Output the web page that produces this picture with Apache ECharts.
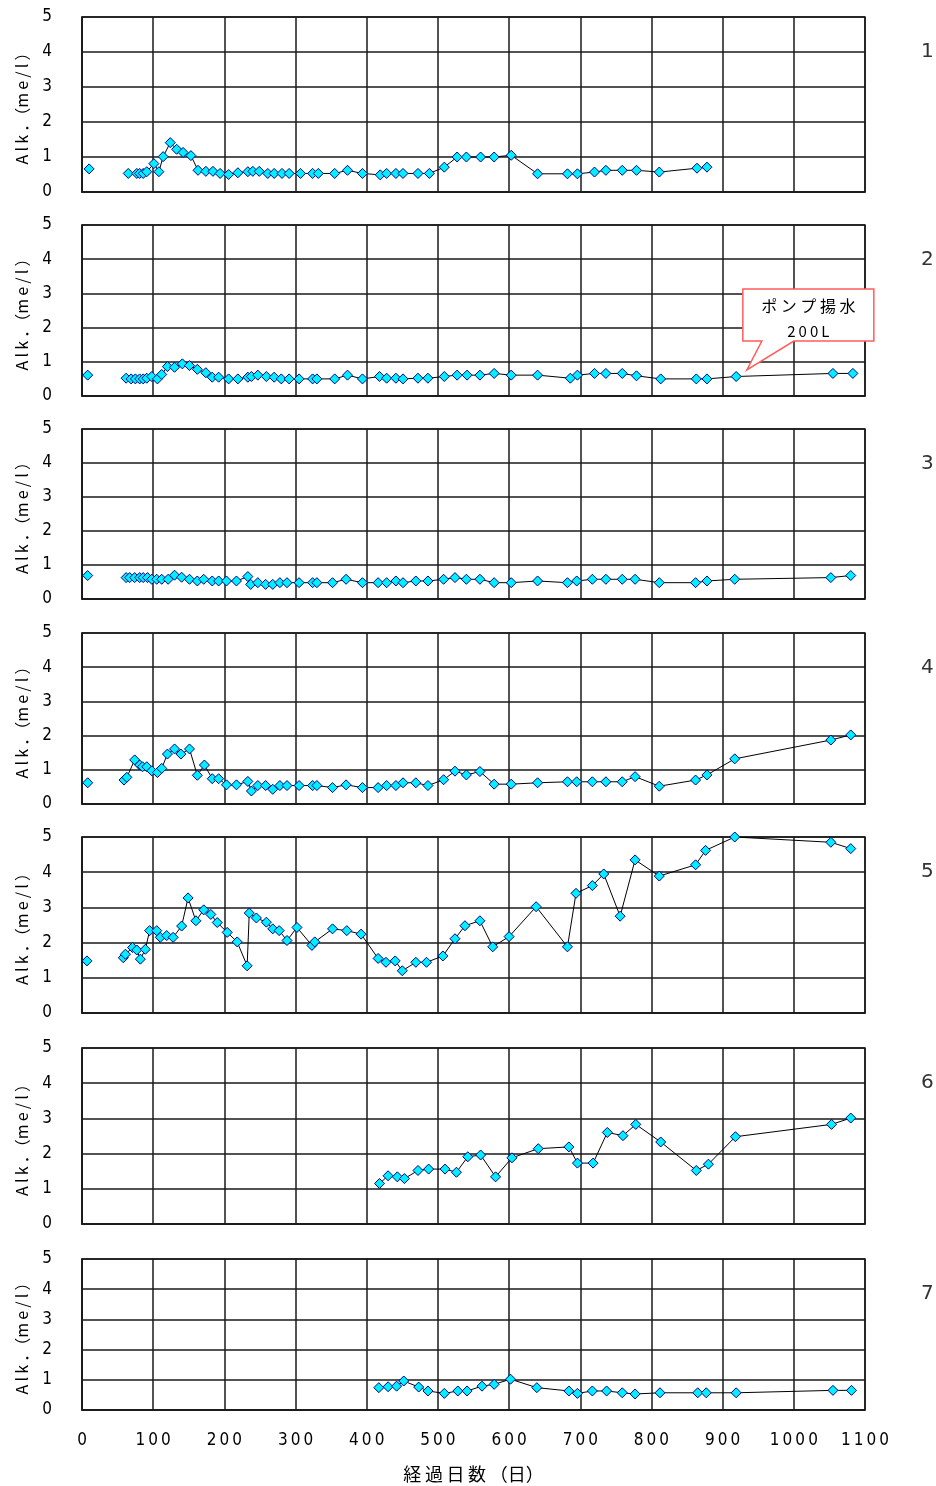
<!DOCTYPE html>
<html>
<head>
<meta charset="utf-8">
<title>Alk. time series</title>
<script src="https://cdn.jsdelivr.net/npm/echarts@6/dist/echarts.min.js"></script>
<style>
  html, body { margin: 0; padding: 0; background: #fff; }
  #chart { width: 936px; height: 1486px; }
</style>
</head>
<body>
<div id="chart"></div>
<script>
// Station labels (drawn at the right of each panel)
const stations = ['1', '2', '3', '4', '5', '6', '7'];

// Elapsed days / alkalinity (me/l) per station
const days1 = [10, 65, 77, 81, 86, 91, 101, 108, 114, 124, 133, 142, 153, 163, 174, 184, 194, 206, 219, 233, 240, 249, 261, 270, 281, 291, 307, 324, 332, 355, 373, 394, 419, 428, 441, 451, 472, 488, 509, 527, 540, 560, 579, 603, 640, 682, 696, 720, 736, 759, 779, 811, 864, 878];
const alk1  = [0.66, 0.53, 0.53, 0.53, 0.53, 0.58, 0.81, 0.58, 1.01, 1.41, 1.22, 1.13, 1.04, 0.62, 0.59, 0.59, 0.53, 0.50, 0.55, 0.58, 0.59, 0.59, 0.53, 0.53, 0.53, 0.53, 0.53, 0.53, 0.53, 0.53, 0.62, 0.53, 0.49, 0.53, 0.53, 0.53, 0.53, 0.53, 0.71, 1.00, 1.00, 1.00, 1.00, 1.05, 0.52, 0.52, 0.52, 0.57, 0.62, 0.62, 0.62, 0.57, 0.68, 0.71];

const days2 = [8, 62, 69, 75, 81, 86, 91, 98, 106, 112, 120, 130, 141, 151, 162, 174, 183, 192, 206, 219, 233, 238, 247, 259, 270, 280, 291, 305, 324, 330, 355, 373, 394, 418, 428, 441, 451, 472, 486, 509, 527, 541, 559, 579, 603, 640, 686, 696, 720, 736, 759, 779, 813, 863, 878, 919, 1055, 1083];
const alk2  = [0.61, 0.52, 0.50, 0.50, 0.50, 0.50, 0.52, 0.57, 0.50, 0.63, 0.86, 0.84, 0.94, 0.89, 0.78, 0.68, 0.55, 0.55, 0.50, 0.50, 0.55, 0.57, 0.61, 0.57, 0.55, 0.50, 0.50, 0.50, 0.50, 0.50, 0.50, 0.61, 0.50, 0.57, 0.52, 0.52, 0.50, 0.52, 0.52, 0.57, 0.61, 0.61, 0.61, 0.66, 0.61, 0.61, 0.52, 0.61, 0.66, 0.66, 0.66, 0.59, 0.50, 0.50, 0.50, 0.57, 0.66, 0.66];

const days3 = [8, 62, 67, 74, 81, 86, 92, 98, 105, 112, 121, 130, 140, 151, 162, 171, 183, 192, 203, 217, 233, 237, 247, 258, 268, 278, 288, 305, 324, 330, 352, 371, 394, 416, 428, 441, 451, 469, 486, 508, 524, 540, 559, 579, 603, 640, 682, 695, 717, 736, 759, 777, 811, 862, 878, 917, 1052, 1080];
const alk3  = [0.69, 0.63, 0.63, 0.63, 0.63, 0.63, 0.63, 0.58, 0.58, 0.58, 0.58, 0.70, 0.64, 0.58, 0.53, 0.58, 0.53, 0.53, 0.53, 0.53, 0.66, 0.43, 0.48, 0.43, 0.43, 0.48, 0.48, 0.48, 0.48, 0.48, 0.48, 0.58, 0.48, 0.48, 0.48, 0.53, 0.48, 0.53, 0.53, 0.58, 0.63, 0.58, 0.58, 0.48, 0.48, 0.53, 0.48, 0.53, 0.58, 0.58, 0.58, 0.58, 0.48, 0.48, 0.53, 0.58, 0.63, 0.69];

const days4 = [8, 59, 63, 74, 81, 85, 91, 98, 106, 112, 120, 130, 139, 151, 162, 172, 183, 192, 203, 217, 233, 238, 247, 258, 268, 278, 288, 305, 324, 330, 352, 371, 394, 416, 428, 441, 451, 469, 486, 508, 524, 540, 559, 579, 603, 640, 682, 695, 717, 736, 759, 777, 811, 862, 878, 917, 1052, 1080];
const alk4  = [0.62, 0.70, 0.78, 1.29, 1.14, 1.09, 1.09, 0.97, 0.92, 1.04, 1.46, 1.61, 1.46, 1.61, 0.84, 1.14, 0.74, 0.74, 0.56, 0.56, 0.66, 0.38, 0.54, 0.54, 0.43, 0.54, 0.54, 0.54, 0.54, 0.54, 0.48, 0.56, 0.48, 0.48, 0.54, 0.54, 0.62, 0.62, 0.54, 0.71, 0.96, 0.85, 0.95, 0.58, 0.58, 0.62, 0.65, 0.65, 0.65, 0.65, 0.65, 0.80, 0.52, 0.70, 0.85, 1.32, 1.87, 2.02];

const days5 = [7, 58, 61, 71, 77, 82, 89, 95, 105, 110, 119, 128, 140, 149, 160, 171, 181, 190, 204, 218, 232, 235, 245, 259, 268, 277, 288, 302, 323, 327, 352, 372, 392, 416, 427, 440, 450, 469, 484, 507, 524, 538, 559, 577, 600, 638, 682, 694, 717, 733, 756, 777, 811, 862, 876, 917, 1052, 1080];
const alk5  = [1.48, 1.57, 1.67, 1.86, 1.79, 1.53, 1.81, 2.34, 2.34, 2.15, 2.20, 2.15, 2.47, 3.27, 2.62, 2.93, 2.80, 2.57, 2.29, 2.02, 1.34, 2.84, 2.70, 2.58, 2.39, 2.34, 2.06, 2.43, 1.92, 2.02, 2.39, 2.34, 2.24, 1.55, 1.44, 1.48, 1.20, 1.44, 1.44, 1.62, 2.11, 2.48, 2.62, 1.88, 2.17, 3.02, 1.88, 3.40, 3.62, 3.95, 2.75, 4.35, 3.89, 4.21, 4.62, 5.00, 4.85, 4.67];

const days6 = [418, 430, 443, 453, 472, 487, 510, 526, 542, 560, 581, 604, 641, 684, 696, 718, 738, 760, 778, 813, 863, 880, 918, 1053, 1080];
const alk6  = [1.15, 1.37, 1.34, 1.29, 1.52, 1.56, 1.56, 1.47, 1.91, 1.96, 1.34, 1.88, 2.14, 2.19, 1.73, 1.73, 2.60, 2.51, 2.83, 2.33, 1.52, 1.70, 2.48, 2.83, 3.01];

const days7 = [417, 430, 442, 452, 473, 486, 509, 528, 541, 562, 579, 602, 639, 684, 696, 717, 737, 759, 777, 812, 865, 877, 919, 1055, 1081];
const alk7  = [0.74, 0.77, 0.79, 0.96, 0.76, 0.63, 0.55, 0.63, 0.63, 0.79, 0.85, 1.02, 0.74, 0.63, 0.55, 0.63, 0.63, 0.57, 0.53, 0.57, 0.57, 0.57, 0.57, 0.65, 0.65];

const stationDays = [days1, days2, days3, days4, days5, days6, days7];
const stationAlk  = [alk1, alk2, alk3, alk4, alk5, alk6, alk7];
// The first sample of stations 1-5 is not joined to the rest of the record
const firstSampleDetached = [true, true, true, true, true, false, false];

// Axis ticks
const dayTicks = [0, 1100, 100];   // min, max, step
const alkTicks = [0, 5, 1];

// Pump note on station 2
const pumpNote = { station: 1, day: 934, alk: 0.76, lines: ['ポ ン プ 揚 水', '2\u20090\u20090\u2009L'] };

// Panel layout
const panelTop    = [17, 225, 429, 633, 837, 1048, 1259];
const panelHeight = [175, 171, 170, 171, 176, 176, 151];
const plotLeft = 82, plotWidth = 783;

const numFont = "'Liberation Sans Narrow', 'DejaVu Sans Condensed', 'Liberation Sans', sans-serif";
const jpFont  = "'Noto Sans CJK JP', 'Noto Sans', sans-serif";
const gridColor = '#1a1a1a';

const spaced = s => String(s).split('').join('\u2009');

const grids = [], xAxes = [], yAxes = [], series = [], titles = [];
stations.forEach((name, i) => {
  const last = i === stations.length - 1;
  grids.push({
    left: plotLeft, width: plotWidth, top: panelTop[i], height: panelHeight[i],
    show: true, borderColor: gridColor, borderWidth: 1.5, backgroundColor: '#fff'
  });
  xAxes.push({
    type: 'value', gridIndex: i,
    min: dayTicks[0], max: dayTicks[1], interval: dayTicks[2],
    axisLine: { show: true, lineStyle: { color: gridColor, width: 1.5 } },
    axisTick: { show: false },
    splitLine: { show: true, lineStyle: { color: gridColor, width: 1.5 } },
    axisLabel: {
      show: last, margin: 22, color: '#000',
      fontFamily: numFont, fontSize: 17,
      formatter: v => spaced(v)
    },
    name: last ? '経\u2009過\u2009日\u2009数\u2009（日）' : '',
    nameLocation: 'middle', nameGap: 55,
    nameTextStyle: { fontFamily: jpFont, fontSize: 18, color: '#000' }
  });
  yAxes.push({
    type: 'value', gridIndex: i,
    min: alkTicks[0], max: alkTicks[1], interval: alkTicks[2],
    axisLine: { show: true, lineStyle: { color: gridColor, width: 1.5 } },
    axisTick: { show: false },
    splitLine: { show: true, lineStyle: { color: gridColor, width: 1.5 } },
    axisLabel: { margin: 30, color: '#000', fontFamily: numFont, fontSize: 17 },
    name: 'A\u2009l\u2009k\u2009．（m\u2009e\u2009/\u2009l\u2009）',
    nameLocation: 'middle', nameGap: 52, nameRotate: 90,
    nameTextStyle: { fontFamily: jpFont, fontSize: 16, color: '#000' }
  });

  const pts = stationDays[i].map((d, k) => [d, stationAlk[i][k]]);
  const markerStyle = {
    type: 'line', xAxisIndex: i, yAxisIndex: i,
    symbol: 'diamond', symbolSize: 10, showAllSymbol: true, clip: false,
    itemStyle: { color: '#00f0ff', borderColor: '#00008b', borderWidth: 1 },
    lineStyle: { color: '#000', width: 1 },
    emphasis: { disabled: true }, animation: false
  };
  if (firstSampleDetached[i]) {
    series.push(Object.assign({}, markerStyle, { data: pts.slice(0, 1) }));
    series.push(Object.assign({}, markerStyle, { data: pts.slice(1) }));
  } else {
    series.push(Object.assign({}, markerStyle, { data: pts }));
  }

  titles.push({
    text: name, left: 916, top: panelTop[i] + 20,
    textStyle: { fontFamily: "'DejaVu Sans', sans-serif", fontWeight: 'normal', fontSize: 20, color: '#333' }
  });
});

const chart = echarts.init(document.getElementById('chart'), null, { renderer: 'canvas' });
chart.setOption({
  animation: false,
  backgroundColor: '#fff',
  title: titles,
  grid: grids,
  xAxis: xAxes,
  yAxis: yAxes,
  series: series
});

// Callout pointing at the pump-out point on station 2
const tip = chart.convertToPixel({ gridIndex: pumpNote.station }, [pumpNote.day, pumpNote.alk]);
const box = { l: -4, r: 127, t: -81, b: -29, tail0: 15, tail1: 47 };
chart.setOption({
  graphic: [{
    type: 'group', x: tip[0], y: tip[1], z: 100,
    children: [
      {
        type: 'polygon',
        shape: { points: [[box.l, box.t], [box.r, box.t], [box.r, box.b], [box.tail1, box.b], [0, 0], [box.tail0, box.b], [box.l, box.b]] },
        style: { fill: '#fff', stroke: '#ff5c5c', lineWidth: 1.5 }
      },
      {
        type: 'text', x: (box.l + box.r) / 2, y: box.t + 17,
        style: { text: pumpNote.lines[0], fill: '#000', font: "16px " + jpFont, align: 'center', verticalAlign: 'middle' }
      },
      {
        type: 'text', x: (box.l + box.r) / 2, y: box.t + 42,
        style: { text: pumpNote.lines[1], fill: '#000', font: "15px " + jpFont, align: 'center', verticalAlign: 'middle' }
      }
    ]
  }]
});
</script>
</body>
</html>
